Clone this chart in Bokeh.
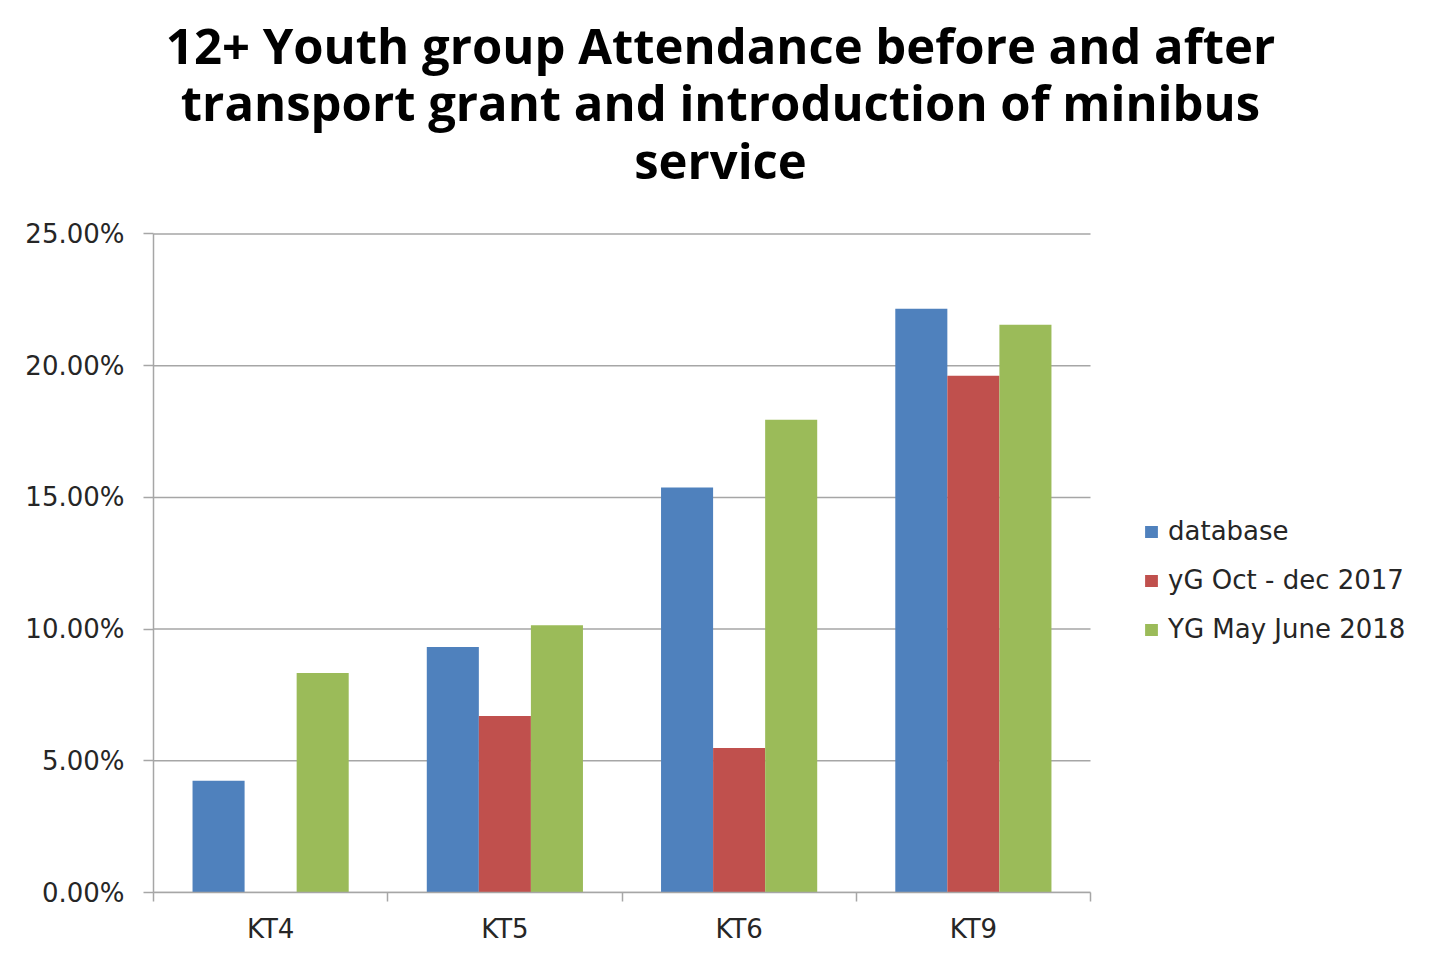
from bokeh.plotting import figure
from bokeh.models import (ColumnDataSource, FixedTicker, NumeralTickFormatter, Legend,
                          LegendItem, Range1d)
from bokeh.core.properties import value
from bokeh.embed import file_html
from bokeh.resources import INLINE
import numpy as np

categories = ["KT4", "KT5", "KT6", "KT9"]
series_names = ["database", "yG Oct - dec 2017", "YG May June 2018"]
database = [0.0424, 0.0932, 0.1538, 0.2216]
yg_oct_dec_2017 = [0.0, 0.0670, 0.0549, 0.1962]
yg_may_june_2018 = [0.0833, 0.1015, 0.1795, 0.2155]
y_ticks = [0.0, 0.05, 0.10, 0.15, 0.20, 0.25]
title_lines = ["12+ Youth group Attendance before and after",
               "transport grant and introduction of minibus",
               "service"]

colors = ["#4F81BD", "#C0504D", "#9BBB59"]
series = [database, yg_oct_dec_2017, yg_may_june_2018]

W, H = 1439, 946
LEFT, BOTTOM = 153, 52
PLOT_W, PLOT_H = 937, 660          # pixel size of the category/value area
FONT = "DejaVu Sans"
TXT = "#262626"
GRAY = "#A6A6A6"

n = len(categories)
ymax = y_ticks[-1]
frame_w = W - LEFT
frame_h = H - BOTTOM
x_end = n * frame_w / PLOT_W
y_end = ymax * frame_h / PLOT_H

p = figure(width=W, height=H, output_backend="svg", toolbar_location=None,
           x_range=Range1d(0, x_end), y_range=Range1d(0, y_end),
           min_border_left=LEFT, min_border_right=0, min_border_top=0,
           min_border_bottom=BOTTOM)
p.outline_line_color = None
p.xgrid.grid_line_color = None
p.ygrid.grid_line_color = None


def px_to_data(sx, sy_from_top):
    """figure pixel position -> data coordinates (for title placement)."""
    return ((sx - LEFT) * n / PLOT_W, (frame_h - sy_from_top) * ymax / PLOT_H)


# gridlines limited to the chart area
p.segment(x0=[0] * len(y_ticks), x1=[n] * len(y_ticks), y0=y_ticks, y1=y_ticks,
          line_color=GRAY, line_width=1.5, level="underlay")

centers = np.arange(n) + 0.5
bw = 52 / 234
offsets = [-bw, 0.0, bw]
renderers = []
for vals, col, off in zip(series, colors, offsets):
    src = ColumnDataSource(dict(x=centers + off, top=vals))
    r = p.vbar(x="x", top="top", width=bw, source=src, fill_color=col, line_color=None)
    renderers.append(r)

# y axis
p.yaxis.bounds = (0, ymax)
p.yaxis.ticker = FixedTicker(ticks=y_ticks)
p.yaxis.formatter = NumeralTickFormatter(format="0.00%")
p.yaxis.axis_line_color = GRAY
p.yaxis.axis_line_width = 1.5
p.yaxis.major_tick_line_color = GRAY
p.yaxis.major_tick_line_width = 1.5
p.yaxis.major_tick_out = 10
p.yaxis.major_tick_in = 0
p.yaxis.minor_tick_line_color = None
p.yaxis.major_label_text_font = FONT
p.yaxis.major_label_text_font_size = "26px"
p.yaxis.major_label_text_color = TXT
p.yaxis.major_label_standoff = 19

# x axis
p.xaxis.bounds = (0, n)
p.xaxis.ticker = FixedTicker(ticks=list(centers), minor_ticks=list(range(n + 1)))
p.xaxis.major_label_overrides = {float(c): cat for c, cat in zip(centers, categories)}
p.xaxis.axis_line_color = GRAY
p.xaxis.axis_line_width = 1.5
p.xaxis.major_tick_line_color = None
p.xaxis.minor_tick_line_color = GRAY
p.xaxis.minor_tick_line_width = 1.5
p.xaxis.minor_tick_out = 9
p.xaxis.minor_tick_in = 0
p.xaxis.major_label_text_font = FONT
p.xaxis.major_label_text_font_size = "26px"
p.xaxis.major_label_text_color = TXT
p.xaxis.major_label_standoff = 12

legend = Legend(items=[LegendItem(label=nm, renderers=[r]) for nm, r in zip(series_names, renderers)],
                location=(990, 248), padding=0, margin=0, spacing=19,
                glyph_width=16, glyph_height=15, label_height=30,
                label_standoff=9, label_text_font=FONT, label_text_font_size="26px",
                label_text_color=TXT, background_fill_alpha=0, border_line_color=None)
p.add_layout(legend, "center")

# title
tx, ty = [], []
for b in [45, 102, 160]:
    x, y = px_to_data(720, b)
    tx.append(x)
    ty.append(y)
tsrc = ColumnDataSource(dict(x=tx, y=ty, text=title_lines))
p.text(x="x", y="y", text="text", source=tsrc, text_align="center", text_baseline="alphabetic",
       text_font=value("Open Sans"), text_font_style="bold", text_font_size="49px",
       text_color="black")

open("out.html", "w").write(file_html(p, INLINE))
